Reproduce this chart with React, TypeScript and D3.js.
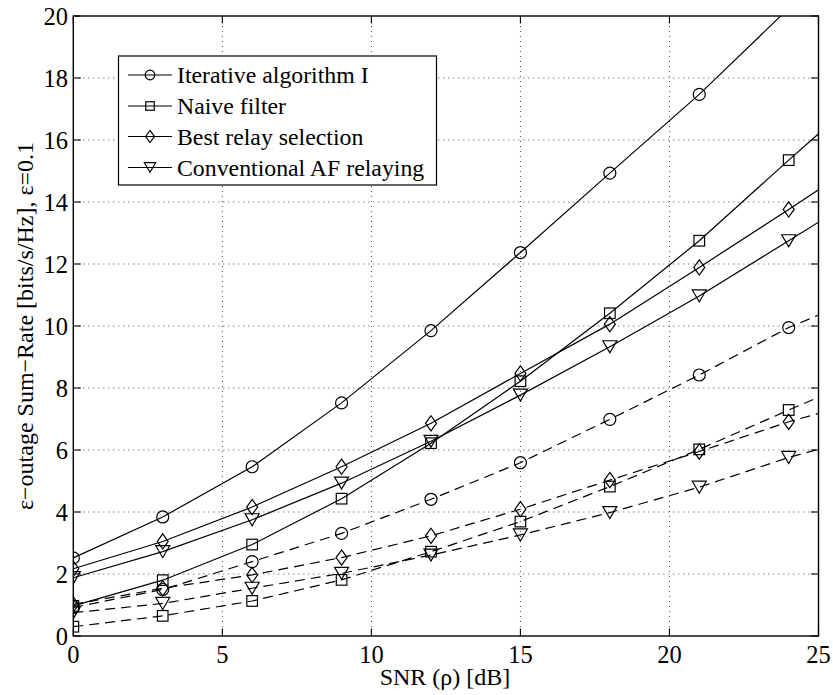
import React from 'react';
import * as d3 from 'd3';

const snr = [0, 3, 6, 9, 12, 15, 18, 21, 24, 27];
const iterSolid = [2.52, 3.84, 5.46, 7.52, 9.85, 12.37, 14.93, 17.47, 20.25, 23.0];
const naiveSolid = [0.97, 1.8, 2.95, 4.43, 6.22, 8.22, 10.41, 12.75, 15.35, 17.9];
const bestSolid = [2.17, 3.05, 4.16, 5.46, 6.86, 8.47, 10.06, 11.89, 13.76, 15.65];
const convSolid = [1.88, 2.72, 3.75, 4.93, 6.28, 7.77, 9.33, 10.97, 12.75, 14.55];
const iterDashed = [0.92, 1.5, 2.4, 3.31, 4.41, 5.59, 6.99, 8.42, 9.95, 11.15];
const naiveDashed = [0.3, 0.65, 1.13, 1.81, 2.72, 3.69, 4.82, 6.02, 7.29, 8.52];
const bestDashed = [1.02, 1.54, 1.97, 2.53, 3.23, 4.09, 5.03, 5.95, 6.91, 7.72];
const convDashed = [0.75, 1.05, 1.54, 2.02, 2.61, 3.26, 3.98, 4.8, 5.76, 6.54];

const xTicks = [0, 5, 10, 15, 20, 25];
const yTicks = [0, 2, 4, 6, 8, 10, 12, 14, 16, 18, 20];
const legendLabels = ['Iterative algorithm I', 'Naive filter', 'Best relay selection', 'Conventional AF relaying'];
const markerTypes = ['circle', 'square', 'diamond', 'triangle'];

const W = 833, H = 695;
const L = 73.3, R = 818.5, T = 16, B = 636;
const FONT = '"Liberation Serif", "Times New Roman", serif';

function Marker({ type, x, y, s = 1 }: { type: string; x: number; y: number; s?: number }) {
  const st = { fill: 'none', stroke: '#000', strokeWidth: 1.2 };
  if (type === 'circle') return <circle cx={x} cy={y} r={6 * s} {...st} />;
  if (type === 'square') return <rect x={x - 5.3 * s} y={y - 5.3 * s} width={10.6 * s} height={10.6 * s} {...st} />;
  if (type === 'diamond')
    return <path d={`M${x},${y - 7.6 * s}L${x + 5.5 * s},${y}L${x},${y + 7.6 * s}L${x - 5.5 * s},${y}Z`} {...st} />;
  return <path d={`M${x - 7 * s},${y - 6 * s}L${x + 7 * s},${y - 6 * s}L${x},${y + 6 * s}Z`} {...st} />;
}

export default function App() {
  const x = d3.scaleLinear().domain([0, 25]).range([L, R]);
  const y = d3.scaleLinear().domain([0, 20]).range([B, T]);
  const line = d3.line<[number, number]>().x(d => x(d[0])).y(d => y(d[1]));

  const series = [
    { v: iterSolid, m: 'circle', dash: false },
    { v: naiveSolid, m: 'square', dash: false },
    { v: bestSolid, m: 'diamond', dash: false },
    { v: convSolid, m: 'triangle', dash: false },
    { v: iterDashed, m: 'circle', dash: true },
    { v: naiveDashed, m: 'square', dash: true },
    { v: bestDashed, m: 'diamond', dash: true },
    { v: convDashed, m: 'triangle', dash: true },
  ];

  const legX = 118.5, legY = 56, legW = 318, legH = 129;
  const rowY = [75, 106, 136.5, 167.5];

  return (
    <svg width={W} height={H} style={{ position: 'absolute', left: 0, top: 0, background: '#fff' }} fontFamily={FONT}>
      <defs>
        <clipPath id="clip">
          <rect x={L} y={T} width={R - L} height={B - T} />
        </clipPath>
      </defs>
      <rect x={0} y={0} width={W} height={H} fill="#fff" />
      {xTicks.slice(1, -1).map(t => (
        <line key={'gx' + t} x1={x(t)} x2={x(t)} y1={T} y2={B} stroke="#333" strokeWidth={0.9} strokeDasharray="1 4" />
      ))}
      {yTicks.slice(1, -1).map(t => (
        <line key={'gy' + t} x1={L} x2={R} y1={y(t)} y2={y(t)} stroke="#333" strokeWidth={0.9} strokeDasharray="1 4" />
      ))}
      <g clipPath="url(#clip)">
        {series.map((s, i) => (
          <g key={i}>
            <path
              d={line(snr.map((xv, j) => [xv, s.v[j]] as [number, number])) || ''}
              fill="none"
              stroke="#000"
              strokeWidth={1.2}
              strokeDasharray={s.dash ? '10 6' : undefined}
            />
            {snr.map((xv, j) => (xv <= 25 ? <Marker key={j} type={s.m} x={x(xv)} y={y(s.v[j])} /> : null))}
          </g>
        ))}
      </g>
      <rect x={L} y={T} width={R - L} height={B - T} fill="none" stroke="#000" strokeWidth={1.4} />
      {xTicks.map(t => (
        <g key={'tx' + t}>
          <line x1={x(t)} x2={x(t)} y1={B} y2={B - 7.5} stroke="#000" strokeWidth={1.1} />
          <line x1={x(t)} x2={x(t)} y1={T} y2={T + 7.5} stroke="#000" strokeWidth={1.1} />
          <text x={x(t)} y={663} textAnchor="middle" fontSize={24.5}>{t}</text>
        </g>
      ))}
      {yTicks.map(t => (
        <g key={'ty' + t}>
          <line x1={L} x2={L + 7.5} y1={y(t)} y2={y(t)} stroke="#000" strokeWidth={1.1} />
          <line x1={R} x2={R - 7.5} y1={y(t)} y2={y(t)} stroke="#000" strokeWidth={1.1} />
          <text x={68} y={y(t) + 8.5} textAnchor="end" fontSize={24.5}>{t}</text>
        </g>
      ))}
      <text x={445} y={685} textAnchor="middle" fontSize={24}>SNR (ρ) [dB]</text>
      <text transform={`translate(33,${(T + B) / 2}) rotate(-90)`} textAnchor="middle" fontSize={24}>
        ε−outage Sum−Rate [bits/s/Hz], ε=0.1
      </text>
      <rect x={legX} y={legY} width={legW} height={legH} fill="#fff" stroke="#000" strokeWidth={1.2} />
      {legendLabels.map((lab, i) => (
        <g key={lab}>
          <line x1={128} x2={172} y1={rowY[i]} y2={rowY[i]} stroke="#000" strokeWidth={1.2} />
          <Marker type={markerTypes[i]} x={150} y={rowY[i]} s={0.8} />
          <text x={177} y={rowY[i] + 8.3} fontSize={23.8}>{lab}</text>
        </g>
      ))}
    </svg>
  );
}
